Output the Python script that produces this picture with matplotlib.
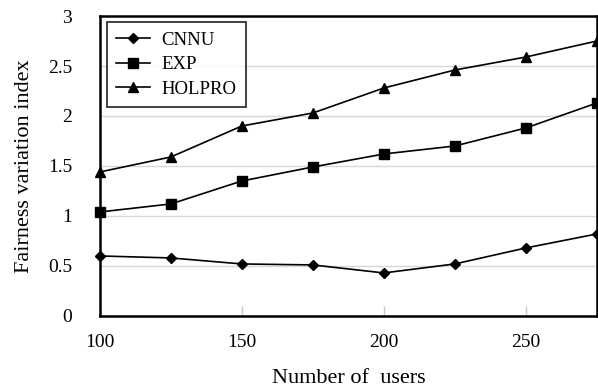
import matplotlib
matplotlib.use("Agg")
import matplotlib.pyplot as plt

users = [100, 125, 150, 175, 200, 225, 250, 275]
cnnu = [0.60, 0.58, 0.52, 0.51, 0.43, 0.52, 0.68, 0.82]
exp = [1.04, 1.12, 1.35, 1.49, 1.62, 1.70, 1.88, 2.13]
holpro = [1.44, 1.59, 1.90, 2.03, 2.28, 2.46, 2.59, 2.75]

x_ticks = [100, 150, 200, 250]
y_ticks = [0, 0.5, 1, 1.5, 2, 2.5, 3]
y_tick_labels = ["0", "0.5", "1", "1.5", "2", "2.5", "3"]

plt.rcParams['font.family'] = ['Liberation Serif', 'DejaVu Serif']

fig = plt.figure(figsize=(5.98, 3.91), dpi=100)
ax = fig.add_axes([0.167, 0.192, 0.831, 0.767])

ax.plot(users, cnnu, marker='D', markersize=5, color='black', linewidth=1.2, label='CNNU', clip_on=False)
ax.plot(users, exp, marker='s', markersize=6.5, color='black', linewidth=1.2, label='EXP', clip_on=False)
ax.plot(users, holpro, marker='^', markersize=7, color='black', linewidth=1.2, label='HOLPRO', clip_on=False)

ax.set_xlim(100, 275)
ax.set_ylim(0, 3)
ax.set_xticks(x_ticks)
ax.set_yticks(y_ticks)
ax.set_yticklabels(y_tick_labels)
ax.yaxis.grid(True, color='#d8d8d8', linewidth=1)
ax.set_axisbelow(True)

ax.tick_params(axis='x', direction='in', length=7, color='#c8c8c8', width=1, pad=13, labelsize=14)
ax.tick_params(axis='y', length=0, pad=20, labelsize=14)

for s in ax.spines.values():
    s.set_linewidth(1.8)
    s.set_color('black')

ax.set_xlabel('Number of  users', fontsize=16, labelpad=13)
ax.set_ylabel('Fairness variation index', fontsize=16, labelpad=10)

leg = ax.legend(loc='upper left', bbox_to_anchor=(0.014, 0.98), borderaxespad=0, fontsize=13.5,
                frameon=True, fancybox=False, edgecolor='black', borderpad=0.5,
                handlelength=1.8, labelspacing=0.4, handletextpad=0.6)
leg.get_frame().set_linewidth(1.3)

fig.savefig('out.png', dpi=100)
